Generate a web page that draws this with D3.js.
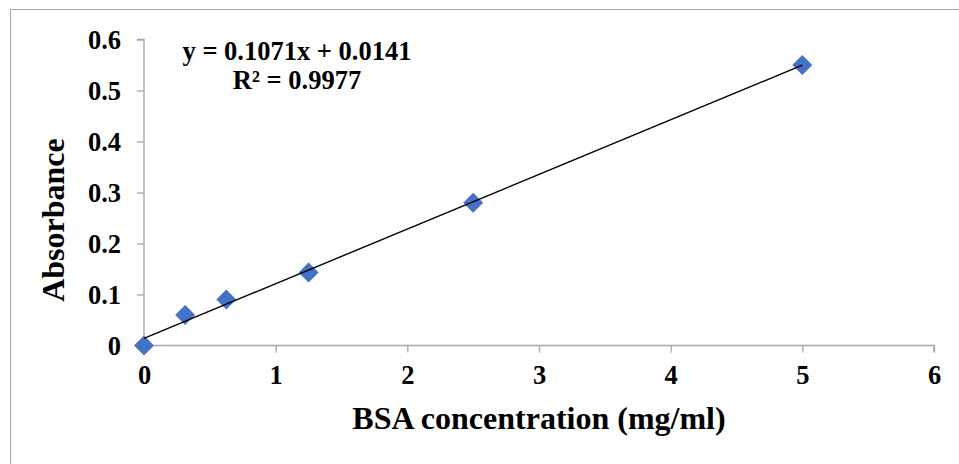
<!DOCTYPE html>
<html>
<head>
<meta charset="utf-8">
<script src="https://cdn.jsdelivr.net/npm/d3@7"></script>
<style>
  html, body { margin: 0; padding: 0; background: #fff; }
  svg { display: block; }
  text { font-family: "Liberation Serif", "Times New Roman", serif; font-weight: bold; fill: #000; }
</style>
</head>
<body>
<svg id="chart" width="959" height="464"></svg>
<script>
const concentration = [0, 0.3125, 0.625, 1.25, 2.5, 5];
const absorbance = [0, 0.06, 0.09, 0.143, 0.28, 0.55];
const xTicks = [0, 1, 2, 3, 4, 5, 6];
const yTicks = [0, 0.1, 0.2, 0.3, 0.4, 0.5, 0.6];
const slope = 0.1071, intercept = 0.0141;
const equationLabel = "y = 0.1071x + 0.0141";
const r2Label = "R² = 0.9977";
const xTitle = "BSA concentration (mg/ml)";
const yTitle = "Absorbance";

const svg = d3.select("#chart");
// outer chart border
svg.append("rect").attr("x", 10.5).attr("y", 9.5).attr("width", 960).attr("height", 470)
  .attr("fill", "#fff").attr("stroke", "#a6a6a6").attr("stroke-width", 1);

const x = d3.scaleLinear().domain([0, 6]).range([144, 934]);
const y = d3.scaleLinear().domain([0, 0.6]).range([345.5, 39.5]);

// y axis
const yAxis = svg.append("g").attr("transform", `translate(${x(0)},0)`)
  .call(d3.axisLeft(y).tickValues(yTicks).tickSize(7).tickPadding(16)
    .tickFormat(d => d === 0 ? "0" : d3.format(".1f")(d)));
yAxis.select(".domain").attr("stroke", "#a6a6a6").attr("stroke-width", 1.3)
  .attr("d", `M-7,${y(0.6)}H0V${y(0)}`);
yAxis.selectAll(".tick line").attr("stroke", "#a6a6a6").attr("stroke-width", 1.3);
yAxis.selectAll(".tick text").attr("font-size", 26.5).attr("font-family", "Liberation Serif")
  .attr("font-weight", "bold").attr("fill", "#000").attr("dy", "0.33em");

// x axis
const xAxis = svg.append("g").attr("transform", `translate(0,${y(0)})`)
  .call(d3.axisBottom(x).tickValues(xTicks).tickSize(7).tickPadding(13).tickFormat(d3.format("d")));
xAxis.select(".domain").attr("stroke", "#a6a6a6").attr("stroke-width", 1.3)
  .attr("d", `M${x(0)},0H${x(6)}V7`);
xAxis.selectAll(".tick line").attr("stroke", "#a6a6a6").attr("stroke-width", 1.3);
xAxis.selectAll(".tick text").attr("font-size", 26.5).attr("font-family", "Liberation Serif")
  .attr("font-weight", "bold").attr("fill", "#000").attr("dy", "0.71em");

const xMin = d3.min(concentration), xMax = d3.max(concentration);

// markers
const sym = d3.symbol().type(d3.symbolSquare).size(200);
svg.append("g").selectAll("path").data(concentration.map((c, i) => [c, absorbance[i]]))
  .join("path")
  .attr("d", sym)
  .attr("transform", d => `translate(${x(d[0])},${y(d[1])}) rotate(45)`)
  .attr("fill", "#4472c4");

// trendline (drawn over markers)
svg.append("line")
  .attr("x1", x(xMin)).attr("y1", y(slope * xMin + intercept))
  .attr("x2", x(xMax)).attr("y2", y(slope * xMax + intercept))
  .attr("stroke", "#000").attr("stroke-width", 1.4);

// equation labels
svg.append("text").attr("x", 297).attr("y", 60).attr("text-anchor", "middle")
  .attr("font-size", 26.5).text(equationLabel);
svg.append("text").attr("x", 297).attr("y", 89).attr("text-anchor", "middle")
  .attr("font-size", 26.5).text(r2Label);

// axis titles
svg.append("text").attr("x", 539).attr("y", 429).attr("text-anchor", "middle")
  .attr("font-size", 32).text(xTitle);
svg.append("text").attr("transform", "translate(64,220) rotate(-90)").attr("text-anchor", "middle")
  .attr("font-size", 32).text(yTitle);
</script>
</body>
</html>
